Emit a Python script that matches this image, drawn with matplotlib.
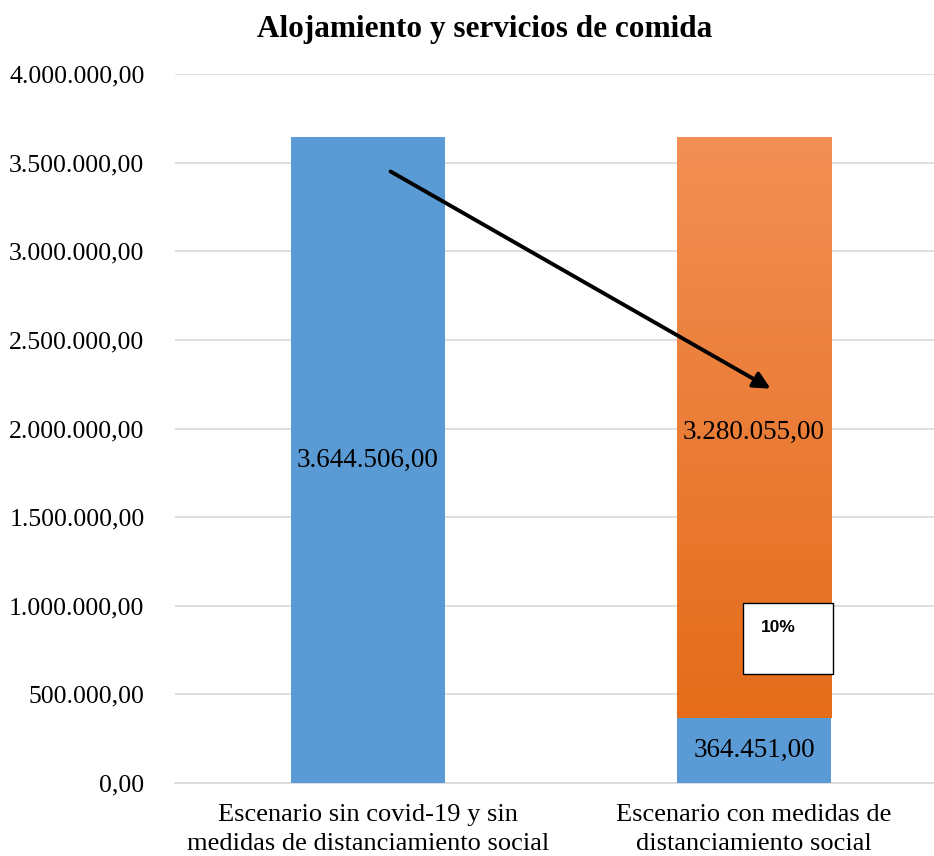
import numpy as np
import matplotlib
matplotlib.use("Agg")
import matplotlib.pyplot as plt
from matplotlib.patches import Rectangle
from matplotlib.colors import LinearSegmentedColormap

plt.rcParams['font.family'] = ['Liberation Serif', 'DejaVu Serif']

categorias = ["Escenario sin covid-19 y sin\nmedidas de distanciamiento social",
              "Escenario con medidas de\ndistanciamiento social"]
base = [3644506.00, 364451.00]
perdida = [0, 3280055.00]
etiquetas_base = ["3.644.506,00", "364.451,00"]
etiqueta_perdida = "3.280.055,00"
yticks = [0, 500000, 1000000, 1500000, 2000000, 2500000, 3000000, 3500000, 4000000]
ytick_labels = ["0,00", "500.000,00", "1.000.000,00", "1.500.000,00", "2.000.000,00",
                "2.500.000,00", "3.000.000,00", "3.500.000,00", "4.000.000,00"]

azul = "#5B9BD5"
ancho = 0.4

fig = plt.figure(figsize=(9.34, 8.56), dpi=100)
ax = fig.add_axes([175/934, 73/856, 759/934, 709/856])

x = np.arange(len(categorias))
bars = ax.bar(x, base, width=ancho, color=azul, zorder=3)
top = ax.bar(x, perdida, width=ancho, bottom=base, color="none", zorder=3)

# degradado naranja dentro de la barra apilada
cmap = LinearSegmentedColormap.from_list("nar", ["#E46C1A", "#F28F55"])
for r in top:
    if r.get_height() <= 0:
        continue
    x0, y0, w, h = r.get_x(), r.get_y(), r.get_width(), r.get_height()
    grad = np.linspace(0, 1, 256).reshape(-1, 1)
    im = ax.imshow(grad, cmap=cmap, origin="lower", aspect="auto",
                   extent=[x0, x0 + w, y0, y0 + h], zorder=3)
    im.set_clip_path(r)

for i, r in enumerate(bars):
    ax.text(r.get_x() + r.get_width()/2, base[i]/2, etiquetas_base[i],
            ha="center", va="center", fontsize=19.5, zorder=5)
ax.text(x[1], base[1] + perdida[1]/2 - 25000, etiqueta_perdida,
        ha="center", va="center", fontsize=19.5, zorder=5)

# flecha
ax.annotate("", xy=(1.049, 2217000), xytext=(0.052, 3458000),
            arrowprops=dict(arrowstyle="-|>,head_length=1.0,head_width=0.5",
                            color="black", lw=2.8), zorder=6)

# cuadro 10%
ax.add_patch(Rectangle((0.971, 615000), 0.233, 400000, facecolor="white",
                       edgecolor="black", lw=1, zorder=6))
ax.text(1.064, 880000, "10%", ha="center", va="center", fontsize=12.5,
        fontweight="bold", family=["Liberation Sans", "DejaVu Sans"], zorder=7)

ax.set_xlim(-0.5, 1.466)
ax.set_ylim(0, 4000000)
ax.set_yticks(yticks)
ax.set_yticklabels(ytick_labels, fontsize=18.5)
ax.set_xticks(x)
ax.set_xticklabels(categorias, fontsize=19, linespacing=1.4)
ax.tick_params(axis="both", length=0)
ax.tick_params(axis="y", pad=22)
ax.tick_params(axis="x", pad=15)
ax.grid(axis="y", color="#D9D9D9", lw=1.2, zorder=0)
for s in ["top", "right", "left"]:
    ax.spines[s].set_visible(False)
ax.spines["bottom"].set_color("#D9D9D9")
ax.spines["bottom"].set_linewidth(1.2)

fig.text(485/934, 1 - 29/856, "Alojamiento y servicios de comida", ha="center",
         va="center", fontsize=22.5, fontweight="bold")

fig.savefig("out.png", dpi=100)
